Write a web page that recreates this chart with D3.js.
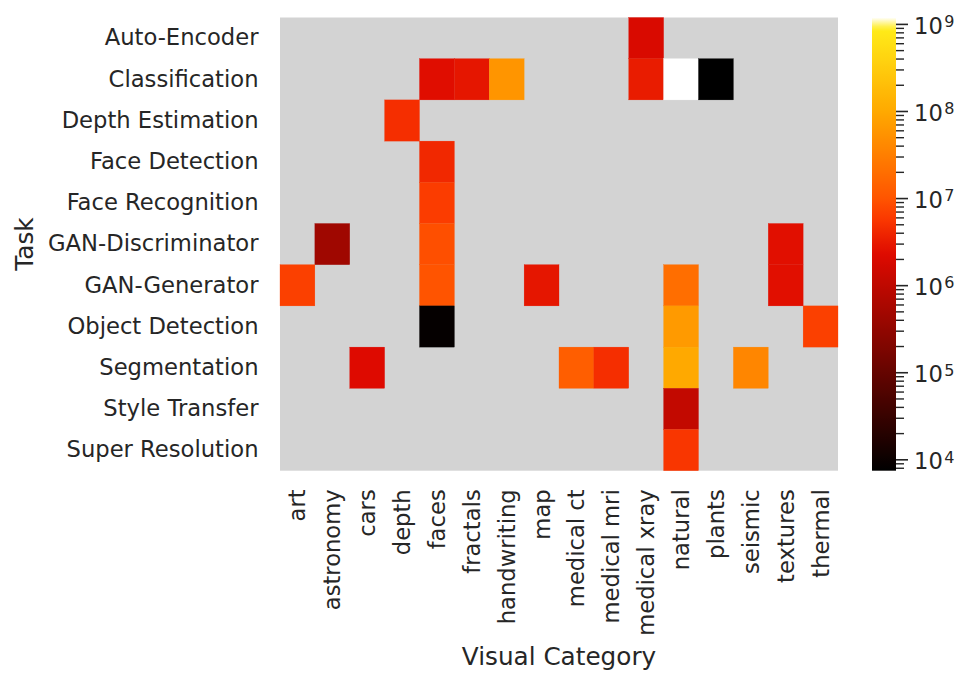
<!DOCTYPE html>
<html>
<head>
<meta charset="utf-8">
<script src="https://cdn.jsdelivr.net/npm/d3@7"></script>
<style>
  html, body { margin: 0; padding: 0; background: #ffffff; }
  svg text { font-family: "DejaVu Sans", sans-serif; fill: #262626; }
</style>
</head>
<body>
<svg id="chart" width="973" height="687"></svg>
<script>
// ---------------- data ----------------
const tasks = [
  "Auto-Encoder", "Classification", "Depth Estimation", "Face Detection",
  "Face Recognition", "GAN-Discriminator", "GAN-Generator", "Object Detection",
  "Segmentation", "Style Transfer", "Super Resolution"
];
const categories = [
  "art", "astronomy", "cars", "depth", "faces", "fractals", "handwriting", "map",
  "medical ct", "medical mri", "medical xray", "natural", "plants", "seismic",
  "textures", "thermal"
];
// rows = tasks, columns = categories, null = no entry
const values = [
  /* Auto-Encoder      */ [null, null, null, null, null, null, null, null, null, null, 2.0e6, null, null, null, null, null],
  /* Classification    */ [null, null, null, null, 2.4e6, 2.9e6, 5.8e7, null, null, null, 3.3e6, 1.2e9, 7.5e3, null, null, null],
  /* Depth Estimation  */ [null, null, null, 4.8e6, null, null, null, null, null, null, null, null, null, null, null, null],
  /* Face Detection    */ [null, null, null, null, 4.2e6, null, null, null, null, null, null, null, null, null, null, null],
  /* Face Recognition  */ [null, null, null, null, 6.3e6, null, null, null, null, null, null, null, null, null, null, null],
  /* GAN-Discriminator */ [null, 4.5e5, null, null, 9.0e6, null, null, null, null, null, null, null, null, null, 2.5e6, null],
  /* GAN-Generator     */ [6.8e6, null, null, null, 1.0e7, null, null, 2.9e6, null, null, null, 2.0e7, null, null, 2.5e6, null],
  /* Object Detection  */ [null, null, null, null, 8.5e3, null, null, null, null, null, null, 6.6e7, null, null, null, 6.8e6],
  /* Segmentation      */ [null, null, 2.3e6, null, null, null, null, null, 1.3e7, 4.8e6, null, 1.0e8, null, 3.9e7, null, null],
  /* Style Transfer    */ [null, null, null, null, null, null, null, null, null, null, null, 1.1e6, null, null, null, null],
  /* Super Resolution  */ [null, null, null, null, null, null, null, null, null, null, null, 5.6e6, null, null, null, null]
];
const colorbarTickExponents = [4, 5, 6, 7, 8, 9];
const xLabel = "Visual Category";
const yLabel = "Task";

// ---------------- layout / style ----------------
const plot = { left: 280, right: 838, top: 17.5, bottom: 470.7 };
const cbar = { left: 872, right: 896 };
const fontSize = 22.67;
const titleSize = 24.7;
const missingColor = "#d3d3d3";
// "hot"-like colour map stops (normalised position -> colour)
const cmapStops = [
  [0.000, "rgb(0,0,0)"],
  [0.477, "rgb(222,10,0)"],
  [0.554, "rgb(250,55,0)"],
  [0.602, "rgb(255,85,0)"],
  [0.795, "rgb(255,170,0)"],
  [0.974, "rgb(255,235,25)"],
  [1.000, "rgb(255,255,255)"]
];

const svg = d3.select("#chart");

const flat = values.flat().filter(v => v != null);
const vmin = d3.min(flat), vmax = d3.max(flat);

const norm = d3.scaleLog().domain([vmin, vmax]).range([0, 1]).clamp(true);
const cmap = d3.scaleLinear()
  .domain(cmapStops.map(s => s[0]))
  .range(cmapStops.map(s => s[1]))
  .interpolate(d3.interpolateRgb);
const color = v => cmap(norm(v));

const x = d3.scaleBand().domain(categories).range([plot.left, plot.right]);
const y = d3.scaleBand().domain(tasks).range([plot.top, plot.bottom]);

// background (missing)
svg.append("rect")
  .attr("x", plot.left).attr("y", plot.top)
  .attr("width", plot.right - plot.left).attr("height", plot.bottom - plot.top)
  .attr("fill", missingColor);

// cells
const cells = [];
values.forEach((row, i) => row.forEach((v, j) => {
  if (v != null) cells.push({ task: tasks[i], cat: categories[j], v });
}));
svg.append("g").selectAll("rect").data(cells).join("rect")
  .attr("x", d => x(d.cat)).attr("y", d => y(d.task))
  .attr("width", x.bandwidth()).attr("height", y.bandwidth())
  .attr("fill", d => color(d.v))
  .attr("stroke", d => color(d.v)).attr("stroke-width", 0.3);

// y axis labels
const yAxis = d3.axisLeft(y).tickSize(0).tickPadding(21.5);
const gy = svg.append("g").attr("transform", `translate(${plot.left},0)`).call(yAxis);
gy.select(".domain").remove();
gy.selectAll("text").attr("font-size", fontSize).attr("fill", "#262626")
  .style("font-family", '"DejaVu Sans", sans-serif');

// x axis labels (rotated)
const xAxis = d3.axisBottom(x).tickSize(0).tickPadding(0);
const gx = svg.append("g").attr("transform", `translate(0,${plot.bottom})`).call(xAxis);
gx.select(".domain").remove();
gx.selectAll("text")
  .attr("font-size", fontSize).attr("fill", "#262626")
  .style("font-family", '"DejaVu Sans", sans-serif')
  .attr("text-anchor", "end")
  .attr("y", null)
  .attr("transform", "translate(0,18.6) rotate(-90)")
  .attr("dy", "0.35em");

// axis titles
svg.append("text")
  .attr("x", (plot.left + plot.right) / 2).attr("y", 665)
  .attr("text-anchor", "middle").attr("font-size", titleSize).text(xLabel);
svg.append("text")
  .attr("transform", `translate(33,${(plot.top + plot.bottom) / 2}) rotate(-90)`)
  .attr("text-anchor", "middle").attr("font-size", titleSize).text(yLabel);

// colorbar
const cy = d3.scaleLog().domain([vmin, vmax]).range([plot.bottom, plot.top]);
const defs = svg.append("defs");
const grad = defs.append("linearGradient").attr("id", "cbgrad")
  .attr("x1", 0).attr("y1", 1).attr("x2", 0).attr("y2", 0);
d3.range(0, 101).forEach(k => {
  const t = k / 100;
  grad.append("stop").attr("offset", t).attr("stop-color", cmap(t));
});
svg.append("rect")
  .attr("x", cbar.left).attr("y", plot.top)
  .attr("width", cbar.right - cbar.left).attr("height", plot.bottom - plot.top)
  .attr("fill", "url(#cbgrad)");

// colorbar ticks
const minorTicks = [];
for (let d = Math.floor(Math.log10(vmin)); d <= Math.ceil(Math.log10(vmax)); d++) {
  for (let m = 2; m <= 9; m++) {
    const v = m * Math.pow(10, d);
    if (v >= vmin && v <= vmax) minorTicks.push(v);
  }
}
const gc = svg.append("g");
gc.selectAll("line.minor").data(minorTicks).join("line").attr("class", "minor")
  .attr("x1", cbar.right).attr("x2", cbar.right + 8)
  .attr("y1", d => cy(d)).attr("y2", d => cy(d))
  .attr("stroke", "#262626").attr("stroke-width", 1.4);
gc.selectAll("line.major").data(colorbarTickExponents).join("line").attr("class", "major")
  .attr("x1", cbar.right).attr("x2", cbar.right + 12)
  .attr("y1", e => cy(Math.pow(10, e))).attr("y2", e => cy(Math.pow(10, e)))
  .attr("stroke", "#262626").attr("stroke-width", 1.6);
const lbl = gc.selectAll("text.cbl").data(colorbarTickExponents).join("text").attr("class", "cbl")
  .attr("x", cbar.right + 18).attr("y", e => cy(Math.pow(10, e)) + 9.3)
  .attr("font-size", fontSize);
lbl.append("tspan").text("10");
lbl.append("tspan").attr("font-size", 16).attr("dy", -6.5).attr("dx", 1.5)
  .text(e => e);
</script>
</body>
</html>
